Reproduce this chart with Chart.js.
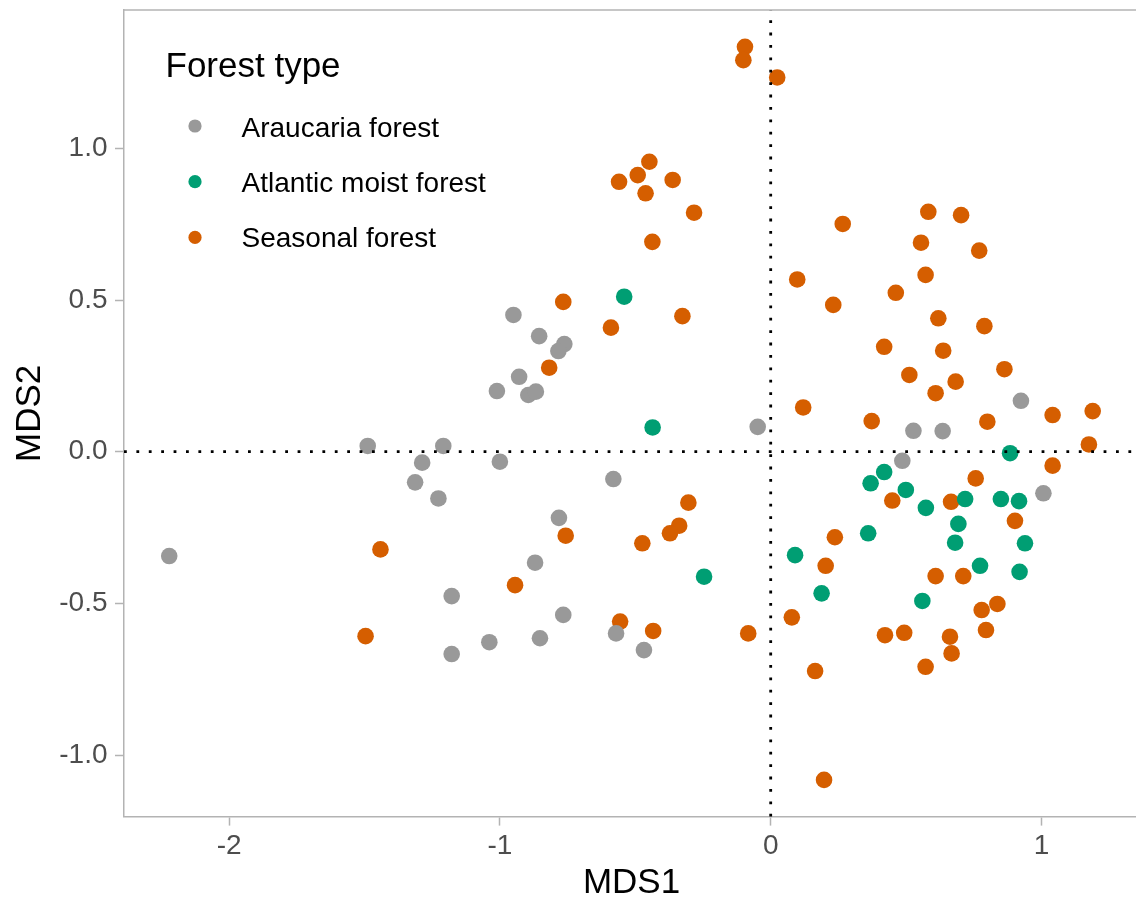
<!DOCTYPE html>
<html>
<head>
<meta charset="utf-8">
<script src="https://cdn.jsdelivr.net/npm/chart.js@4.4.1/dist/chart.umd.min.js"></script>
<style>
  html, body { margin: 0; padding: 0; background: #ffffff; overflow: hidden; }
  #wrap { width: 1136px; height: 902px; overflow: hidden; position: relative; }
  canvas { display: block; }
</style>
</head>
<body>
<div id="wrap"><canvas id="c" width="1140" height="902" style="width:1140px;height:902px"></canvas></div>
<script>
// ---- data ----
const legendTitle = 'Forest type';
const categories = ['Araucaria forest', 'Atlantic moist forest', 'Seasonal forest'];
const seriesColors = ['#999999', '#009E73', '#D55E00'];
const xTicks = [-2, -1, 0, 1];
const yTicks = [-1.0, -0.5, 0.0, 0.5, 1.0];
const xTitle = 'MDS1';
const yTitle = 'MDS2';

const araucaria = [
  [-2.221, -0.344], [-1.488, 0.019], [-1.209, 0.019], [-1.287, -0.036], [-1.313, -0.101],
  [-1.227, -0.154], [-1.011, 0.200], [-1.000, -0.033], [-0.950, 0.451], [-0.855, 0.381],
  [-0.762, 0.355], [-0.784, 0.332], [-0.929, 0.247], [-0.895, 0.187], [-0.867, 0.198],
  [-0.581, -0.090], [-0.048, 0.082], [-0.782, -0.218], [-0.870, -0.366], [-1.178, -0.476],
  [-1.178, -0.667], [-1.039, -0.628], [-0.766, -0.538], [-0.852, -0.615], [-0.571, -0.599],
  [-0.468, -0.654], [0.924, 0.168], [0.527, 0.069], [0.635, 0.068], [0.486, -0.030],
  [1.007, -0.137]
];
const atlantic = [
  [-0.541, 0.511], [-0.436, 0.080], [-0.246, -0.412], [0.090, -0.341], [0.188, -0.467],
  [0.884, -0.005], [0.419, -0.067], [0.369, -0.104], [0.499, -0.126], [0.573, -0.185],
  [0.718, -0.156], [0.850, -0.156], [0.917, -0.163], [0.693, -0.238], [0.360, -0.269],
  [0.681, -0.300], [0.939, -0.302], [0.773, -0.376], [0.919, -0.396], [0.560, -0.492]
];
const seasonal = [
  [-0.095, 1.335], [-0.101, 1.291], [0.024, 1.234], [-0.448, 0.956], [-0.491, 0.912],
  [-0.560, 0.890], [-0.362, 0.896], [-0.462, 0.852], [-0.283, 0.788], [-0.437, 0.692],
  [-0.766, 0.494], [-0.590, 0.409], [-0.326, 0.447], [-0.818, 0.277], [0.266, 0.751],
  [0.582, 0.791], [0.703, 0.780], [0.555, 0.689], [0.770, 0.663], [0.098, 0.568],
  [0.572, 0.583], [0.462, 0.524], [0.231, 0.484], [0.619, 0.440], [0.789, 0.414],
  [0.419, 0.346], [0.637, 0.333], [0.863, 0.272], [0.512, 0.253], [0.683, 0.231],
  [0.609, 0.193], [0.120, 0.146], [1.041, 0.121], [1.189, 0.134], [0.373, 0.101],
  [0.800, 0.099], [1.175, 0.024], [1.041, -0.046], [0.757, -0.088], [0.449, -0.161],
  [0.666, -0.165], [0.902, -0.228], [-1.441, -0.322], [-1.496, -0.608], [-0.944, -0.440],
  [-0.556, -0.560], [-0.434, -0.591], [-0.083, -0.599], [-0.304, -0.168], [-0.338, -0.244],
  [-0.372, -0.269], [-0.757, -0.277], [-0.474, -0.302], [0.237, -0.282], [0.203, -0.376],
  [0.078, -0.546], [0.164, -0.723], [0.197, -1.082], [0.609, -0.410], [0.711, -0.410],
  [0.779, -0.522], [0.837, -0.502], [0.422, -0.605], [0.493, -0.597], [0.662, -0.610],
  [0.795, -0.588], [0.668, -0.665], [0.572, -0.709]
];
const seriesValues = [araucaria, atlantic, seasonal];

// ---- styling ----
const FONT = '"Liberation Sans", Arial, Helvetica, sans-serif';
const AXIS_GREY = '#b3b3b3';

const refLines = {
  id: 'refLines',
  afterDatasetsDraw(chart) {
    const {ctx, chartArea: a, scales: {x, y}} = chart;
    ctx.save();
    ctx.strokeStyle = '#000000';
    ctx.lineWidth = 2.8;
    ctx.lineCap = 'butt';
    ctx.setLineDash([2.8, 9.6]);
    const y0 = y.getPixelForValue(0);
    ctx.beginPath(); ctx.moveTo(a.left, y0); ctx.lineTo(a.right, y0); ctx.stroke();
    const x0 = x.getPixelForValue(0);
    ctx.beginPath(); ctx.moveTo(x0, a.bottom); ctx.lineTo(x0, a.top); ctx.stroke();
    ctx.restore();
  },
  afterDraw(chart) {
    const {ctx, chartArea: a} = chart;
    ctx.save();
    ctx.strokeStyle = AXIS_GREY;
    ctx.lineWidth = 1.5;
    ctx.beginPath(); ctx.moveTo(a.left - 0.75, a.top); ctx.lineTo(a.right, a.top); ctx.stroke();
    ctx.restore();
  }
};

const legendPlugin = {
  id: 'ggLegend',
  afterDraw(chart) {
    const ctx = chart.ctx;
    ctx.save();
    ctx.textBaseline = 'alphabetic';
    ctx.textAlign = 'left';
    ctx.fillStyle = '#000000';
    ctx.font = '35px ' + FONT;
    ctx.fillText(legendTitle, 165.5, 77.3);
    ctx.font = '28px ' + FONT;
    chart.data.datasets.forEach((ds, i) => {
      const cy = 126 + i * 55.7;
      ctx.beginPath();
      ctx.arc(195, cy, 6.6, 0, Math.PI * 2);
      ctx.fillStyle = ds.backgroundColor;
      ctx.fill();
      ctx.fillStyle = '#000000';
      ctx.fillText(ds.label, 241.5, 136.7 + i * 55.3);
    });
    ctx.restore();
  }
};

const zeroPad = s => { s.paddingTop = 0; s.paddingBottom = 0; s.paddingLeft = 0; s.paddingRight = 0; };

const datasets = categories.map((name, i) => ({
  label: name,
  data: seriesValues[i].map(p => ({x: p[0], y: p[1]})),
  backgroundColor: seriesColors[i],
  borderColor: seriesColors[i],
  borderWidth: 0,
  pointRadius: 8.3,
  pointHoverRadius: 8.3
}));

new Chart(document.getElementById('c'), {
  type: 'scatter',
  data: { datasets },
  options: {
    responsive: false,
    animation: false,
    devicePixelRatio: 1,
    events: [],
    layout: { autoPadding: false, padding: { left: 0, top: 10.1, right: 1, bottom: 0 } },
    plugins: { legend: { display: false }, tooltip: { enabled: false } },
    scales: {
      x: {
        type: 'linear',
        position: 'bottom',
        min: -2.388,
        max: 1.360,
        afterBuildTicks: s => { s.ticks = xTicks.map(v => ({ value: v })); },
        afterFit: s => { s.height = 85.4; zeroPad(s); },
        ticks: {
          callback: v => String(v),
          font: { family: FONT, size: 28, lineHeight: 1.2 },
          color: '#4d4d4d',
          padding: 3.5,
          maxRotation: 0,
          autoSkip: false
        },
        grid: { drawOnChartArea: false, drawTicks: true, tickLength: 9, tickColor: AXIS_GREY, tickWidth: 1.5 },
        border: { display: true, color: AXIS_GREY, width: 1.5 },
        title: { display: true, text: xTitle, color: '#000000', font: { family: FONT, size: 35, lineHeight: 1 }, padding: { top: 0, bottom: 1.2 } }
      },
      y: {
        type: 'linear',
        position: 'left',
        min: -1.203,
        max: 1.456,
        afterBuildTicks: s => { s.ticks = yTicks.map(v => ({ value: v })); },
        afterFit: s => { s.width = 124; zeroPad(s); },
        ticks: {
          callback: v => Number(v).toFixed(1),
          font: { family: FONT, size: 28, lineHeight: 1.2 },
          color: '#4d4d4d',
          padding: 7.5,
          autoSkip: false
        },
        grid: { drawOnChartArea: false, drawTicks: true, tickLength: 9, tickColor: AXIS_GREY, tickWidth: 1.5 },
        border: { display: true, color: AXIS_GREY, width: 1.5 },
        title: { display: true, text: yTitle, color: '#000000', font: { family: FONT, size: 35, lineHeight: 1 }, padding: { top: 12.7, bottom: 0 } }
      }
    }
  },
  plugins: [refLines, legendPlugin]
});
</script>
</body>
</html>
